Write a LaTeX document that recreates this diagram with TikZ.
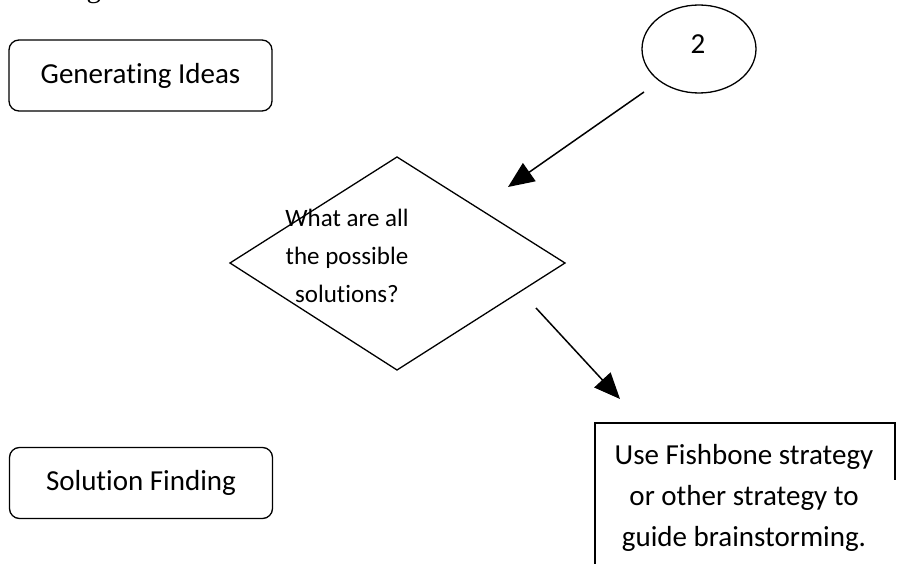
\documentclass[tikz,border=0pt]{standalone}
\usepackage{fontspec}
\setmainfont{Carlito}[Ligatures=NoCommon]
\newfontfamily\headfont{Liberation Serif}
\usetikzlibrary{arrows.meta,shapes.geometric}

\tikzset{
  stage/.style={draw, rounded corners=10pt, line width=1.3pt,
    minimum width=263pt, minimum height=71pt,
    font=\fontsize{29}{35}\selectfont},
  link/.style={line width=1.5pt, -{Triangle[length=26pt,width=22pt]}}
}

\begin{document}
\begin{tikzpicture}[x=1pt,y=-1pt]
\clip (0,0) rectangle (898,564);

% heading, cut off at the top
\node [anchor=base west, inner sep=0pt, font=\headfont\fontsize{29}{35}\selectfont]
  (head) at (-28,-2) {Generating Ideas};

% side labels
\node [stage] (gen) at (140.5,75.5) {Generating Ideas};
\node [stage] (sol) at (141,483) {Solution Finding};

% connector marker
\node [ellipse, draw, line width=1.3pt, minimum width=114pt, minimum height=88pt] (two) at (699,49) {};
\node [font=\fontsize{29}{35}\selectfont] (twolbl) at (698,44) {2};

% decision
\draw [line width=1.3pt] (230,263) -- (397,157) -- (565,263) -- (397,370) -- cycle;
\node [align=center, font=\fontsize{25}{38}\selectfont] (ask) at (347,256)
  {What are all\\the possible\\solutions?};

% action box, runs off the page
\draw [line width=1.3pt] (595,600) -- (595,423) -- (895,423) -- (895,480);
\node [align=center, font=\fontsize{29}{41}\selectfont] (use) at (744,498)
  {Use Fishbone strategy\\or other strategy to\\guide brainstorming.};

\coordinate (a1) at (644,92);
\coordinate (a2) at (508,187);
\coordinate (b1) at (536,308);
\coordinate (b2) at (620,399);
\draw [link] (a1) -- (a2);
\draw [link] (b1) -- (b2);
\end{tikzpicture}
\end{document}
